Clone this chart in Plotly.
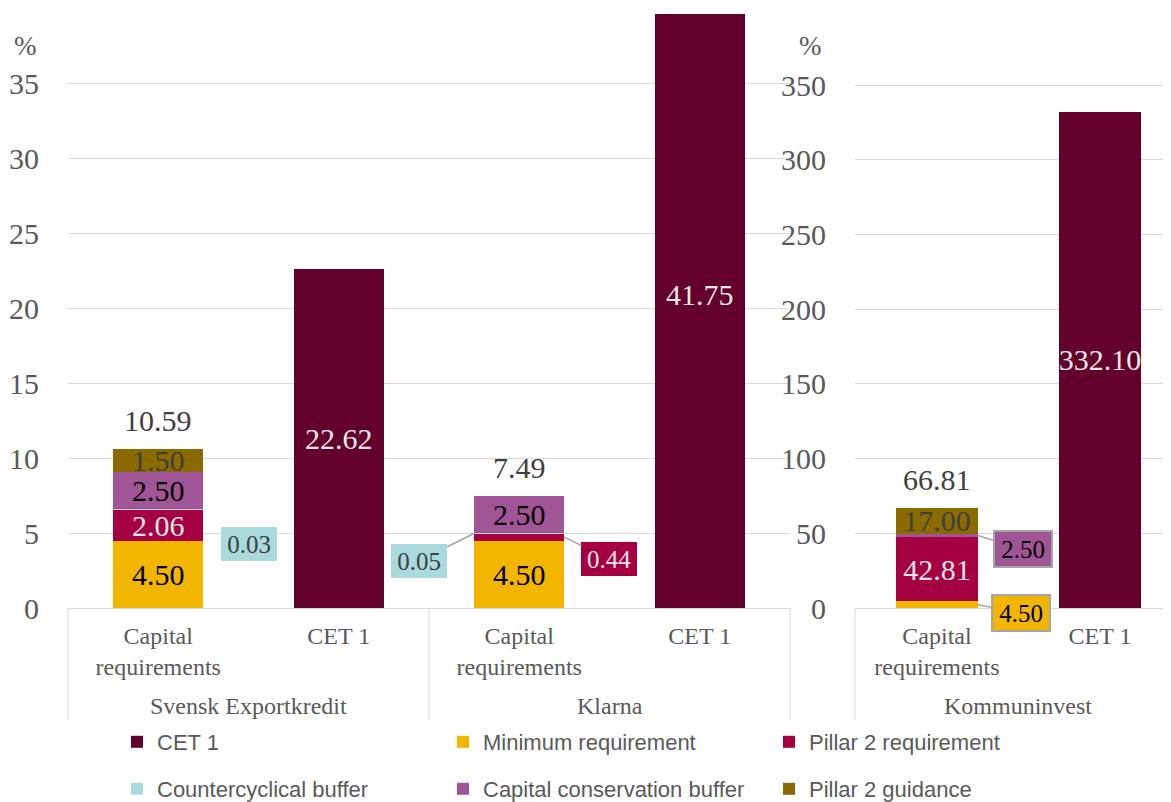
import plotly.graph_objects as go

# ---------------- data ----------------
companies = ["Svensk Exportkredit", "Klarna", "Kommuninvest"]
bar_labels = ["Capital<br>requirements", "CET 1"]

minimum_requirement = [4.50, 4.50, 4.50]
pillar2_requirement = [2.06, 0.44, 42.81]
countercyclical_buffer = [0.03, 0.05, 0.00]
conservation_buffer = [2.50, 2.50, 2.50]
pillar2_guidance = [1.50, 0.00, 17.00]
cet1 = [22.62, 41.75, 332.10]

left_ticks = [0, 5, 10, 15, 20, 25, 30, 35]
right_ticks = [0, 50, 100, 150, 200, 250, 300, 350]

# ---------------- layout (screen pixels, page has an 8px body margin) ----------------
OFF = 8
SCREEN_W, SCREEN_H = 1171, 802
W, H = SCREEN_W - OFF, SCREEN_H - OFF
S_TOP, S_BOTTOM = 14, 608          # plot area top / bottom on screen
PH = S_BOTTOM - S_TOP


def px(sx):      # screen x -> paper fraction
    return (sx - OFF) / W


def py(sy):      # screen y -> paper fraction
    return (S_BOTTOM - sy) / PH


LEFT_RANGE = [0, 39.6]
RIGHT_RANGE = [0, 397.6]
LEFT_DOMAIN = [px(68), px(790)]
RIGHT_DOMAIN = [px(855), 1.0]
GRID = "#d9d9d9"
AXIS_TXT = "#595959"
SERIF = "Liberation Serif, Times New Roman, serif"
SANS = "Liberation Sans, Arial, sans-serif"

# stack components bottom -> top: (name, values, colour, text colour, legend, rank)
stack = [
    ("Minimum requirement", minimum_requirement, "#F2B600", "#000000", "legend", 2),
    ("Pillar 2 requirement", pillar2_requirement, "#A50041", "#E6E6E6", "legend", 3),
    ("Countercyclical buffer", countercyclical_buffer, "#A9DADC", "#404040", "legend2", 4),
    ("Capital conservation buffer", conservation_buffer, "#A05696", "#000000", "legend2", 5),
    ("Pillar 2 guidance", pillar2_guidance, "#8B6A00", "#404040", "legend2", 6),
]
CET_COLOR = "#63002B"


def key(c, b):
    return f"{c}|{b}"


panels = [
    dict(idx=[0, 1], xa="x", ya="y", ppu=PH / LEFT_RANGE[1]),
    dict(idx=[2], xa="x2", ya="y2", ppu=PH / RIGHT_RANGE[1]),
]

# callouts for segments too thin to hold a label: (series, company) -> (side, ax, ay, bordered)
callouts = {
    ("Countercyclical buffer", 0): (1, 46, 35, False),
    ("Countercyclical buffer", 1): (-1, -55, 27, False),
    ("Pillar 2 requirement", 1): (1, 45, 22, False),
    ("Capital conservation buffer", 2): (1, 45, 14, True),
    ("Minimum requirement", 2): (1, 43, 8, True),
}

fig = go.Figure()
annotations = []
shapes = []

for p in panels:
    idx = p["idx"]
    cap_x = [key(companies[i], bar_labels[0]) for i in idx]
    cet_x = [key(companies[i], bar_labels[1]) for i in idx]
    cats = []
    for i in idx:
        cats += [key(companies[i], b) for b in bar_labels]
    p["cats"] = cats
    cum = [0.0] * len(idx)
    for name, vals, col, tcol, leg, rank in stack:
        ys = [vals[i] for i in idx]
        texts = []
        for k, (i, v) in enumerate(zip(idx, ys)):
            texts.append(f"{v:.2f}" if (v > 0 and v * p["ppu"] >= 15) else "")
            if (name, i) in callouts and v > 0:
                side, ax, ay, bordered = callouts[(name, i)]
                annotations.append(dict(
                    x=cats.index(cap_x[k]) + side * 0.25, y=cum[k] + v / 2,
                    xref=p["xa"], yref=p["ya"],
                    text=f"{v:.2f}", showarrow=True, arrowhead=0,
                    arrowcolor="#A6A6A6", arrowwidth=1.5,
                    ax=ax, ay=ay, axref="pixel", ayref="pixel",
                    bgcolor=col, bordercolor="#A6A6A6" if bordered else col,
                    borderwidth=2 if bordered else 0,
                    width=50, height=28, borderpad=3,
                    font=dict(family=SERIF, size=25, color=tcol),
                ))
            cum[k] += v
        fig.add_trace(go.Bar(
            x=cap_x, y=ys, name=name, marker=dict(color=col, line=dict(width=0)),
            width=0.5, xaxis=p["xa"], yaxis=p["ya"],
            text=texts, textposition="inside", insidetextanchor="middle",
            constraintext="none", textangle=0,
            insidetextfont=dict(family=SERIF, size=30, color=tcol),
            legend=leg, legendrank=rank,
            showlegend=(p["xa"] == "x"), hoverinfo="skip",
        ))
    # totals above capital requirement stacks
    for k, i in enumerate(idx):
        annotations.append(dict(
            x=cats.index(cap_x[k]), y=cum[k], xref=p["xa"], yref=p["ya"],
            text=f"{cum[k]:.2f}", showarrow=False, yanchor="bottom", yshift=10,
            font=dict(family=SERIF, size=30, color="#404040"),
        ))
    ys = [cet1[i] for i in idx]
    fig.add_trace(go.Bar(
        x=cet_x, y=ys, name="CET 1", marker=dict(color=CET_COLOR, line=dict(width=0)),
        width=0.5, xaxis=p["xa"], yaxis=p["ya"],
        text=[f"{v:.2f}" for v in ys], textposition="inside", insidetextanchor="middle",
        constraintext="none", textangle=0,
        insidetextfont=dict(family=SERIF, size=30, color="#E8E8E8"),
        legend="legend", legendrank=1,
        showlegend=(p["xa"] == "x"), hoverinfo="skip",
    ))
    # company (group) labels under the category labels
    for k, i in enumerate(idx):
        annotations.append(dict(
            x=2 * k + 0.5, y=py(706), xref=p["xa"], yref="paper",
            text=companies[i], showarrow=False, xanchor="center", yanchor="middle",
            font=dict(family=SERIF, size=24, color=AXIS_TXT),
        ))

# group dividers below the axes (at domain edges and between groups)
d0, d1 = LEFT_DOMAIN
for xp in (d0, (d0 + d1) / 2, d1, RIGHT_DOMAIN[0]):
    shapes.append(dict(type="line", xref="paper", yref="paper",
                       x0=xp, x1=xp, y0=0, y1=py(720),
                       line=dict(color=GRID, width=1)))

# % unit labels
for sx in (25, 810):
    annotations.append(dict(
        x=px(sx), y=py(46), xref="paper", yref="paper",
        xanchor="center", yanchor="middle",
        text="%", showarrow=False, font=dict(family=SERIF, size=27, color=AXIS_TXT),
    ))

xcommon = dict(type="category", categoryorder="array", showline=True, linecolor=GRID,
               linewidth=1, ticks="", showgrid=False, zeroline=False, automargin=False,
               ticklabelstandoff=6,
               tickfont=dict(family=SERIF, size=24, color=AXIS_TXT))
ycommon = dict(showgrid=True, gridcolor=GRID, gridwidth=1, zeroline=False,
               showline=False, ticks="", automargin=False, ticklabelstandoff=28,
               tickfont=dict(family=SERIF, size=30, color=AXIS_TXT))

legcommon = dict(orientation="h", xanchor="left", yanchor="middle",
                 entrywidth=281, entrywidthmode="pixels",
                 bgcolor="rgba(0,0,0,0)", traceorder="normal",
                 font=dict(family=SANS, size=22, color=AXIS_TXT))

lc, rc = panels[0]["cats"], panels[1]["cats"]
fig.update_layout(
    width=W, height=H,
    margin=dict(l=0, r=0, t=S_TOP - OFF, b=SCREEN_H - S_BOTTOM, pad=0, autoexpand=False),
    paper_bgcolor="white", plot_bgcolor="white",
    barmode="stack", showlegend=True,
    xaxis=dict(xcommon, domain=LEFT_DOMAIN, range=[-0.5, 3.5], anchor="y",
               categoryarray=lc, tickvals=lc, ticktext=[c.split("|")[1] for c in lc]),
    yaxis=dict(ycommon, range=LEFT_RANGE, tickvals=left_ticks, anchor="x"),
    xaxis2=dict(xcommon, domain=RIGHT_DOMAIN, range=[-0.503, 1.436], anchor="y2",
                categoryarray=rc, tickvals=rc, ticktext=[c.split("|")[1] for c in rc]),
    yaxis2=dict(ycommon, range=RIGHT_RANGE, tickvals=right_ticks, anchor="x2"),
    legend=dict(legcommon, x=px(117), y=py(742)),
    legend2=dict(legcommon, x=px(117), y=py(789)),
    annotations=annotations,
    shapes=shapes,
)

fig.write_html("out.html")
